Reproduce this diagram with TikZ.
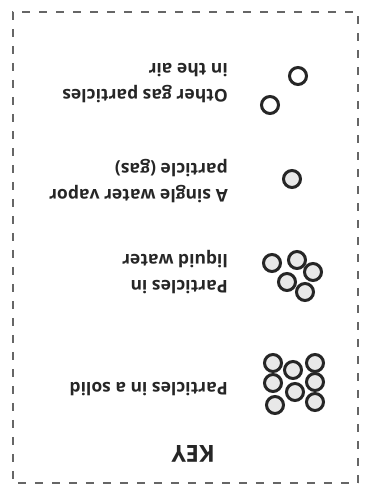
\documentclass[tikz,border=0pt]{standalone}
\usepackage{fontspec}
\setmainfont{Open Sans}
\usepackage{tikz}
\usetikzlibrary{positioning}

\begin{document}
\begin{tikzpicture}[x=1pt,y=-1pt,rotate=180,transform shape,
  ball/.style={circle,draw=black!85,line width=3pt,fill=gray!18,minimum size=17pt,inner sep=0pt},
  gasball/.style={ball,fill=white},
  keytext/.style={anchor=north west,align=left,inner sep=0pt,text=black!85,
    font=\bfseries\fontsize{17.5}{26}\selectfont}]
\useasboundingbox (0,0) rectangle (366,487);
\draw[black!60,line width=1.1pt,dash pattern=on 8pt off 9pt] (8,4) rectangle (353,475);
\node (key) [keytext,font=\bfseries\fontsize{23.5}{26}\selectfont] at (151,25) {KEY};
% solid
\node (s1) [ball] at (51,85)  {};
\node (s2) [ball] at (51,105) {};
\node (s3) [ball] at (51,124) {};
\node (s4) [ball] at (71,95)  {};
\node (s5) [ball] at (73,117) {};
\node (s6) [ball] at (91,82)  {};
\node (s7) [ball] at (93,104) {};
\node (s8) [ball] at (93,124) {};
\node (solid) [keytext] at (138,91) {Particles in a solid};
% liquid
\node (l1) [ball] at (61,195) {};
\node (l2) [ball] at (79,205) {};
\node (l3) [ball] at (53,215) {};
\node (l4) [ball] at (69,227) {};
\node (l5) [ball] at (94,224) {};
\node (liquid) [keytext] at (138,193) {Particles in\\liquid water};
% vapor
\node (v1) [ball] at (74,308) {};
\node (vapor) [keytext] at (138,284) {A single water vapor\\particle (gas)};
% air
\node (g1) [gasball] at (96,382) {};
\node (g2) [gasball] at (68,411) {};
\node (air) [keytext] at (138,384) {Other gas particles\\in the air};
\end{tikzpicture}
\end{document}
